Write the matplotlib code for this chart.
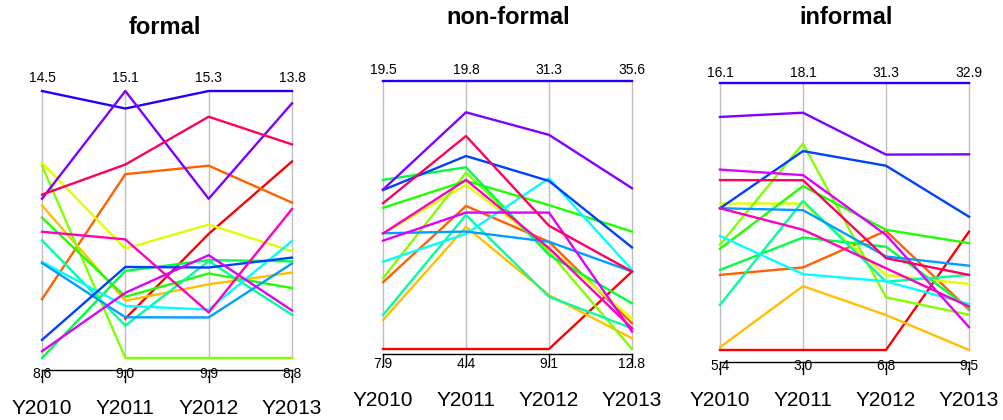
import numpy as np
import matplotlib
matplotlib.use("Agg")
import matplotlib.pyplot as plt
from matplotlib.colors import hsv_to_rgb

plt.rcParams['font.family'] = ['Liberation Sans', 'DejaVu Sans']

years = ['Y2010', 'Y2011', 'Y2012', 'Y2013']
titles = ['formal', 'non-formal', 'informal']
nan = np.nan

# one row per series (drawn in rainbow order), one column per year
formal = [
    [nan, 9.90, 12.41, 12.48],
    [9.90, 13.20, 13.79, 11.71],
    [11.97, 10.31, 11.39, 10.40],
    [12.91, 11.50, 12.60, 10.80],
    [12.85, 9.00, 9.90, 8.80],
    [11.70, 10.40, 11.61, 10.11],
    [8.60, 10.99, 11.88, 10.61],
    [11.20, 9.74, 11.86, 9.61],
    [10.72, 10.19, 10.88, 10.99],
    [10.70, 9.93, 10.72, 10.57],
    [9.00, 11.08, 11.73, 10.68],
    [14.50, 14.70, 15.30, 13.80],
    [12.12, 15.10, 13.12, 13.57],
    [8.75, 10.49, 11.98, 9.69],
    [11.39, 11.71, 10.82, 11.59],
    [12.21, 13.42, 14.78, 12.80],
]

nonformal = [
    [7.90, 4.40, 9.10, 19.39],
    [10.79, 12.62, 17.98, 14.99],
    [9.15, 11.42, 13.56, 13.71],
    [12.89, 13.83, 17.45, 15.40],
    [10.96, 14.53, 17.16, 12.80],
    [14.01, 14.06, 21.02, 22.79],
    [15.22, 14.84, 16.89, 16.68],
    [9.37, 12.10, 13.43, 14.56],
    [11.68, 11.02, 23.24, 19.53],
    [12.91, 11.15, 17.98, 19.39],
    [14.78, 15.49, 23.02, 21.44],
    [19.50, 19.80, 31.30, 35.60],
    [14.80, 18.00, 26.84, 26.48],
    [12.59, 12.24, 20.40, 14.28],
    [12.90, 14.12, 17.45, 14.56],
    [14.21, 16.64, 19.31, 19.39],
]

informal = [
    [5.40, 3.00, 6.80, 19.87],
    [8.41, 7.67, 17.73, 13.03],
    [5.51, 6.61, 10.01, 9.50],
    [11.27, 11.29, 13.68, 15.28],
    [9.62, 14.67, 11.63, 12.59],
    [9.46, 12.27, 17.83, 18.86],
    [8.61, 9.36, 16.28, 13.17],
    [7.21, 11.43, 13.07, 16.08],
    [9.97, 7.29, 13.10, 13.53],
    [11.08, 10.91, 15.38, 16.89],
    [11.08, 14.25, 23.71, 21.18],
    [16.10, 18.10, 31.30, 32.90],
    [14.74, 16.42, 24.73, 26.65],
    [12.63, 12.89, 17.36, 11.51],
    [11.08, 9.80, 14.30, 13.31],
    [12.21, 12.60, 15.23, 16.08],
]

W, H = 1004, 420
fig = plt.figure(figsize=(W / 100, H / 100), dpi=100)

# pixel layout of each panel: axis box, title pos, label offsets
boxes = [(42, 292, 91, 358), (383, 632, 81, 349), (720, 969, 83, 350)]
title_pos = [(165, 28), (508, 18), (846, 18)]
top_off = [13, 11, 10.5]
line_y = [370, 354, 361.5]
minlab_y = [373.5, 364, 365.5]
xlab_y = [408, 400, 400]

n = 16
colors = [hsv_to_rgb((i / n, 1, 1)) for i in range(n)]

for k, data in enumerate([formal, nonformal, informal]):
    vals = np.array(data, dtype=float)
    lo = np.nanmin(vals, axis=0)
    hi = np.nanmax(vals, axis=0)
    scaled = (vals - lo) / (hi - lo)

    l, r, t, b = boxes[k]
    ax = fig.add_axes([l / W, 1 - b / H, (r - l) / W, (b - t) / H])
    ax.set_xlim(0, 3)
    ax.set_ylim(0, 1)
    ax.axis('off')
    hpx = b - t
    x = np.arange(len(years))

    for xi in x:
        ax.plot([xi, xi], [0, 1], color='#BEBEBE', lw=1, clip_on=False, zorder=1)
    for i in range(n):
        ax.plot(x, scaled[i], color=colors[i], lw=1.7, clip_on=False, zorder=2)

    # max labels on top, min labels at the bottom axis
    ly = -(line_y[k] - b) / hpx
    ax.plot([0, 3], [ly, ly], color='black', lw=1, clip_on=False)
    for xi in x:
        ax.text(xi, 1 + top_off[k] / hpx, f'{hi[xi]:.1f}', ha='center', va='center', fontsize=10)
        ax.text(xi, -(minlab_y[k] - b) / hpx, f'{lo[xi]:.1f}', ha='center', va='center', fontsize=10)
        ax.plot([xi, xi], [ly, ly - 12 / hpx], color='black', lw=1, clip_on=False)
        ax.text(xi, -(xlab_y[k] - b) / hpx, years[xi], ha='center', va='center', fontsize=15)

    fig.text(title_pos[k][0] / W, 1 - title_pos[k][1] / H, titles[k],
             ha='center', va='center', fontsize=17, fontweight='bold')

fig.savefig('out.png', dpi=100)
